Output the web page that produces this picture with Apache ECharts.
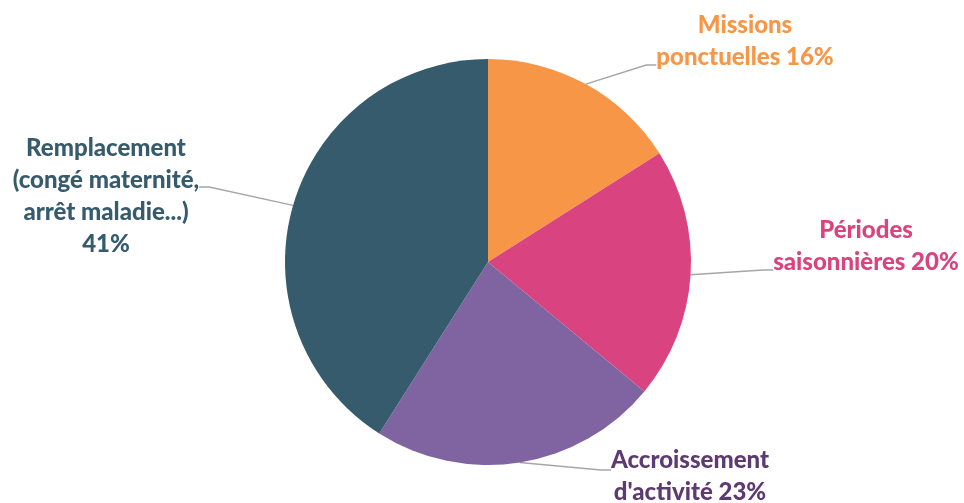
<!DOCTYPE html>
<html>
<head>
<meta charset="utf-8">
<script src="https://cdn.jsdelivr.net/npm/echarts@6/dist/echarts.min.js"></script>
<style>html,body{margin:0;padding:0;background:#fff}#c{width:964px;height:503px}</style>
</head>
<body>
<div id="c"></div>
<script>
const categories = ["Missions\nponctuelles", "Périodes\nsaisonnières", "Accroissement\nd'activité", "Remplacement\n(congé maternité,\narrêt maladie...)"];
const values = [16, 20, 23, 41];
const sliceColors = ["#F79646", "#D9437F", "#8064A2", "#365B6D"];
const labelColors = ["#F79646", "#D9437F", "#5E3A72", "#365B6D"];
const percentSep = [" ", " ", " ", "\n"];
// label anchor: centre x and leader-line attach y
const labelPos = [[745, 65], [866, 270], [690, 470], [106, 187]];
// invisible spacer line (before or after) that shifts where the leader meets the text block
const spacerBefore = [0, 0, 12, 18];
const spacerAfter = [48, 48, 0, 0];

const chart = echarts.init(document.getElementById('c'));
chart.setOption({
  animation: false,
  series: [{
    type: 'pie',
    center: [488, 262],
    radius: 203,
    startAngle: 90,
    clockwise: true,
    data: categories.map((n, i) => ({
      name: n, value: values[i],
      itemStyle: { color: sliceColors[i] },
      label: {
        color: labelColors[i],
        rich: {
          pre: { fontSize: 1, lineHeight: spacerBefore[i] },
          post: { fontSize: 1, lineHeight: spacerAfter[i] }
        }
      }
    })),
    itemStyle: { borderWidth: 0 },
    label: {
      show: true,
      formatter: p => {
        const i = p.dataIndex;
        let s = p.name + percentSep[i] + p.value + '%';
        if (spacerBefore[i]) s = '{pre| }\n' + s;
        if (spacerAfter[i]) s = s + '\n{post| }';
        return s;
      },
      fontFamily: 'Lato', fontWeight: 900, fontSize: 24, lineHeight: 32,
      align: 'center'
    },
    labelLine: { show: true, lineStyle: { color: '#A6A6A6', width: 1.5 }, length: 20, length2: 10 },
    labelLayout: p => ({ x: labelPos[p.dataIndex][0], y: labelPos[p.dataIndex][1], align: 'center', verticalAlign: 'middle' })
  }]
});
</script>
</body>
</html>
